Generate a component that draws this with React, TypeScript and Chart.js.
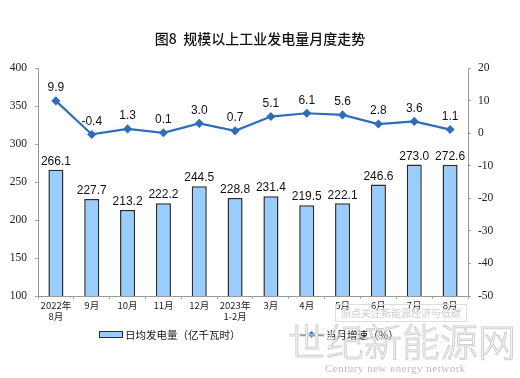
import React, { useEffect, useRef } from "react";
import { Chart, registerables } from "chart.js";

Chart.register(...registerables);

const categories: (string | string[])[] = [
  ["2022年", "8月"], "9月", "10月", "11月", "12月", ["2023年", "1-2月"],
  "3月", "4月", "5月", "6月", "7月", "8月",
];
const dailyOutput = [266.1, 227.7, 213.2, 222.2, 244.5, 228.8, 231.4, 219.5, 222.1, 246.6, 273.0, 272.6];
const growthRate = [9.9, -0.4, 1.3, 0.1, 3.0, 0.7, 5.1, 6.1, 5.6, 2.8, 3.6, 1.1];
const leftTicks = { min: 100, max: 400, step: 50 };
const rightTicks = { min: -50, max: 20, step: 10 };

const title = "图8  规模以上工业发电量月度走势";
const barLegend = "日均发电量（亿千瓦时）";
const lineLegend = "当月增速（%）";

const labelPlugin = {
  id: "valueLabels",
  afterDatasetsDraw(chart: any) {
    const ctx = chart.ctx;
    ctx.save();
    ctx.font = "12px 'Liberation Sans', Arial, sans-serif";
    ctx.fillStyle = "#111";
    ctx.textAlign = "center";
    ctx.textBaseline = "bottom";
    chart.data.datasets.forEach((ds: any, i: number) => {
      const meta = chart.getDatasetMeta(i);
      meta.data.forEach((el: any, j: number) => {
        const v = ds.data[j] as number;
        const txt = v.toFixed(1);
        if (ds.type === "line") {
          ctx.fillText(txt, el.x, el.y - 7);
        } else {
          ctx.fillText(txt, el.x, el.y - 2);
        }
      });
    });
    ctx.restore();
  },
};

export default function App() {
  const ref = useRef<HTMLCanvasElement | null>(null);
  useEffect(() => {
    if (!ref.current) return;
    const chart = new Chart(ref.current, {
      type: "bar",
      data: {
        labels: categories as any,
        datasets: [
          {
            type: "line" as const,
            label: lineLegend,
            data: growthRate,
            yAxisID: "yR",
            borderColor: "#2E6DB8",
            backgroundColor: "#2E6DB8",
            borderWidth: 2.2,
            pointStyle: "rectRot",
            pointRadius: 3,
            tension: 0,
            order: 0,
          } as any,
          {
            type: "bar" as const,
            label: barLegend,
            data: dailyOutput,
            yAxisID: "yL",
            backgroundColor: "#99CCFF",
            borderColor: "#2b2b2b",
            borderWidth: 1.5,
            barPercentage: 0.42,
            categoryPercentage: 1,
            order: 1,
          } as any,
        ],
      },
      options: {
        responsive: false,
        animation: false,
        layout: { padding: { top: 68, left: 0, right: 0, bottom: 0 } },
        plugins: { legend: { display: false }, tooltip: { enabled: false }, title: { display: false } },
        scales: {
          x: {
            offset: true,
            grid: { drawOnChartArea: false, tickLength: 3, color: "#aaa", offset: true },
            border: { color: "#999" },
            ticks: {
              maxRotation: 0,
              autoSkip: false,
              padding: 1,
              color: "#222",
              font: { family: "'Noto Sans CJK SC', sans-serif", size: 9.5, lineHeight: 1.15 },
            },
            afterFit: (s: any) => { s.height = 82; },
          },
          yL: {
            position: "left",
            min: leftTicks.min,
            max: leftTicks.max,
            ticks: {
              stepSize: leftTicks.step,
              padding: 8,
              color: "#222",
              font: { family: "'Liberation Serif', 'DejaVu Serif', serif", size: 11.5 },
            },
            grid: { drawOnChartArea: false, tickLength: 3, color: "#aaa" },
            border: { color: "#999" },
            afterFit: (s: any) => { s.width = 38; },
          },
          yR: {
            position: "right",
            min: rightTicks.min,
            max: rightTicks.max,
            ticks: {
              stepSize: rightTicks.step,
              padding: 7,
              color: "#222",
              font: { family: "'Liberation Serif', 'DejaVu Serif', serif", size: 11.5 },
            },
            grid: { drawOnChartArea: false, tickLength: 3, color: "#aaa" },
            border: { color: "#999" },
            afterFit: (s: any) => { s.width = 52; },
          },
        },
      },
      plugins: [labelPlugin],
    });
    return () => chart.destroy();
  }, []);

  return (
    <div style={{ position: "absolute", left: 0, top: 0, width: 520, height: 378, background: "#fff", overflow: "hidden" }}>
      <canvas ref={ref} width={520} height={378} style={{ position: "absolute", left: 0, top: 0 }} />
      <div
        style={{
          position: "absolute", left: 0, width: 520, top: 28, textAlign: "center",
          fontFamily: "'Noto Sans CJK SC', sans-serif", fontSize: 14, fontWeight: 500, color: "#111",
          whiteSpace: "pre",
        }}
      >
        {title}
      </div>
      <div style={{ position: "absolute", left: 99, top: 327, display: "flex", alignItems: "center", fontFamily: "'Noto Sans CJK SC', sans-serif", fontSize: 10.5, color: "#111" }}>
        <span style={{ display: "inline-block", width: 22, height: 5, background: "#99CCFF", border: "1.5px solid #2b2b2b", marginRight: 2 }} />
        <span>{barLegend}</span>
      </div>
      <div style={{ position: "absolute", left: 300, top: 327, display: "flex", alignItems: "center", fontFamily: "'Noto Sans CJK SC', sans-serif", fontSize: 10.5, color: "#111" }}>
        <span style={{ position: "relative", display: "inline-block", width: 24, height: 10, marginRight: 2 }}>
          <span style={{ position: "absolute", left: 0, top: 4, width: 24, height: 0, borderTop: "2px dashed #2E6DB8" }} />
          <span style={{ position: "absolute", left: 9, top: 2, width: 5, height: 5, background: "#2E6DB8", transform: "rotate(45deg)" }} />
        </span>
        <span>{lineLegend}</span>
      </div>
      <div style={{ position: "absolute", left: 335, top: 304, width: 130, height: 16, border: "1px solid #ddd", color: "#ccc", fontSize: 10, fontFamily: "'Noto Sans CJK SC', sans-serif", textAlign: "center", lineHeight: "16px" }}>
        原点关注新能源经济与低碳
      </div>
      <div style={{ position: "absolute", left: 288, top: 312, fontFamily: "'Noto Sans CJK SC', sans-serif", fontSize: 38, fontWeight: 200, color: "transparent", WebkitTextStroke: "1px #cfcfcf", letterSpacing: 0, whiteSpace: "nowrap" }}>
        世纪新能源网
      </div>
      <div style={{ position: "absolute", left: 325, top: 362, fontFamily: "'Liberation Serif', serif", fontSize: 11, color: "#bbb", whiteSpace: "nowrap", letterSpacing: 0.5 }}>
        Century new energy network
      </div>
    </div>
  );
}
